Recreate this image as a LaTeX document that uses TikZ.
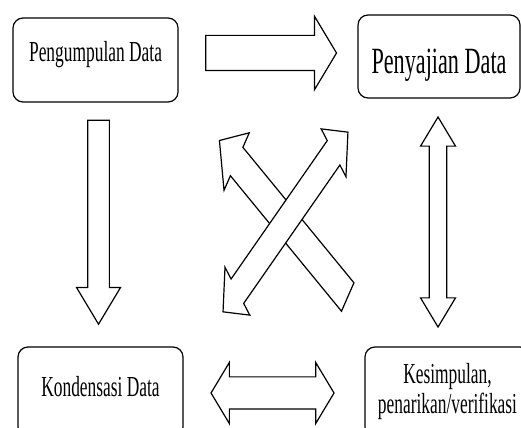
\documentclass[tikz,border=0pt]{standalone}
\usepackage{fontspec}
\setmainfont{Liberation Serif}
\usetikzlibrary{shapes.arrows}

\begin{document}
\begin{tikzpicture}[x=1pt, y=-1pt, xscale=0.6,
	every node/.style={transform shape, draw=black, fill=white, line width=1.2pt},
	box/.style={rectangle, rounded corners=10pt, minimum width=275pt, minimum height=84pt, inner sep=0pt},
	flow/.style={single arrow, single arrow head extend=#1, single arrow tip angle=90, inner xsep=0pt, anchor=tip},
	both/.style={double arrow, double arrow head extend=#1, double arrow tip angle=90, inner xsep=0pt},]
	\useasboundingbox (0,0) rectangle (868.33,428);
	\clip (0,0) rectangle (868.33,428);
	\node (pengumpulan) [box, font=\fontsize{29}{30}\selectfont, text height=12pt, text depth=8pt] at (159.2,60) {Pengumpulan Data};
	\node (penyajian) [box, minimum width=270pt, minimum height=83pt, font=\fontsize{37}{40}\selectfont, text height=35pt, text depth=0pt] at (731.7,56.5) {Penyajian Data};
	\node (kondensasi) [box, minimum height=90pt, font=\fontsize{29}{30}\selectfont, text height=14pt, text depth=4pt] at (167.5,392) {Kondensasi Data};
	\node (kesimpulan) [box, minimum height=90pt, align=center, font=\fontsize{29}{30}\selectfont] at (745.8,392) {Kesimpulan,\\penarikan/verifikasi};
	\node (kanan) [flow=19pt, minimum height=218pt, inner ysep=17pt] at (561.7,53) {};
	\node (bawah) [flow=18.5pt, rotate=-90, minimum height=204pt, inner ysep=17.5pt] at (164.2,325) {};
	\node (tegak) [both=14.5pt, rotate=90, minimum height=210pt, inner ysep=14pt] at (730,222) {};
	\node (datar) [both=14.5pt, minimum height=205pt, inner ysep=15.5pt] at (454.2,393) {};
	\node (silang1) [flow=18pt, rotate=143.8, minimum height=265pt, inner ysep=17pt] at (365,140) {};
	\node (silang2) [both=15.5pt, rotate=40.8, minimum height=275pt, inner ysep=15.5pt] at (475.8,222) {};
\end{tikzpicture}
\end{document}
